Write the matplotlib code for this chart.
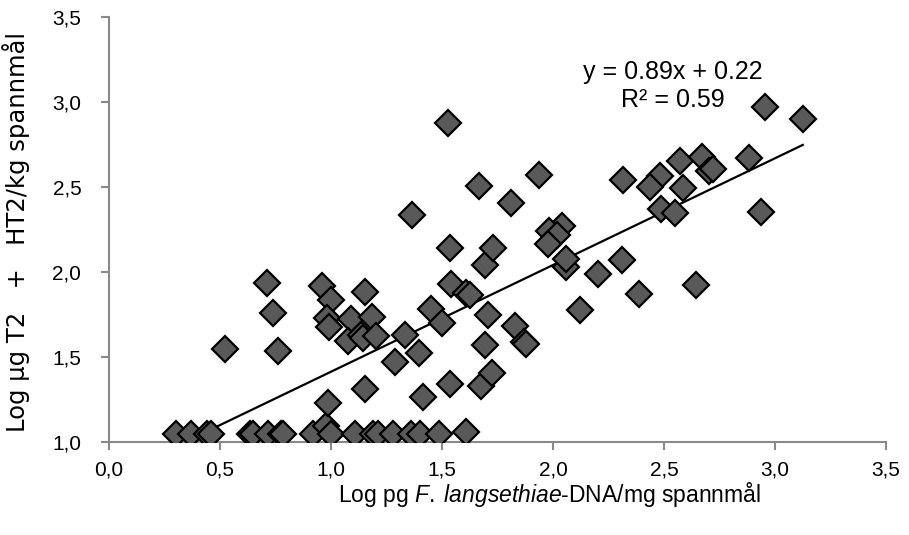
import numpy as np
import matplotlib
matplotlib.use("Agg")
import matplotlib.pyplot as plt

plt.rcParams['mathtext.fontset'] = 'custom'
plt.rcParams['mathtext.rm'] = 'Liberation Sans'
plt.rcParams['mathtext.it'] = 'Liberation Sans:italic'

# Data (log pg DNA/mg, log µg T2+HT2/kg)
x_dna = [0.30, 0.37, 0.44, 0.46, 0.635, 0.65, 0.716, 0.775, 0.785, 0.918, 0.978, 1.00,
         1.106, 1.19, 1.21, 1.28, 1.36, 1.40, 1.488, 1.61,
         0.52, 0.713, 0.739, 0.762, 0.96, 1.001, 1.151, 0.983, 0.99, 1.092, 1.183, 1.076,
         1.136, 1.145, 1.203, 1.29, 1.151, 0.986,
         1.413, 1.395, 1.335, 1.45, 1.498, 1.537, 1.54, 1.608, 1.624, 1.693, 1.709, 1.693,
         1.676, 1.727, 1.828, 1.870, 1.877, 1.536, 1.729, 2.06, 2.058, 2.202, 2.122, 2.312,
         2.388, 2.642,
         1.527, 1.667, 1.81, 1.936, 1.366, 2.042, 1.984, 2.02, 1.977,
         2.957, 3.125, 2.313, 2.484, 2.435, 2.572, 2.673, 2.701, 2.722, 2.586, 2.881,
         2.486, 2.548, 2.939]
y_tox = [1.045, 1.045, 1.045, 1.045, 1.045, 1.045, 1.045, 1.045, 1.045, 1.045, 1.095, 1.045,
         1.045, 1.045, 1.045, 1.045, 1.045, 1.045, 1.045, 1.06,
         1.549, 1.933, 1.761, 1.535, 1.919, 1.835, 1.884, 1.727, 1.675, 1.722, 1.733, 1.596,
         1.629, 1.61, 1.625, 1.472, 1.312, 1.227,
         1.265, 1.525, 1.629, 1.782, 1.702, 1.341, 1.929, 1.878, 1.865, 2.041, 1.745, 1.571,
         1.329, 1.408, 1.682, 1.59, 1.575, 2.143, 2.139, 2.03, 2.075, 1.988, 1.776, 2.073,
         1.869, 1.926,
         2.875, 2.508, 2.408, 2.569, 2.335, 2.272, 2.242, 2.217, 2.164,
         2.969, 2.902, 2.541, 2.563, 2.502, 2.651, 2.678, 2.596, 2.604, 2.492, 2.669,
         2.369, 2.345, 2.353]

x_ticks = [0.0, 0.5, 1.0, 1.5, 2.0, 2.5, 3.0, 3.5]
x_tick_labels = ['0,0', '0,5', '1,0', '1,5', '2,0', '2,5', '3,0', '3,5']
y_ticks = [1.0, 1.5, 2.0, 2.5, 3.0, 3.5]
y_tick_labels = ['1,0', '1,5', '2,0', '2,5', '3,0', '3,5']

equation_text = "y = 0.89x + 0.22\nR² = 0.59"

fig = plt.figure(figsize=(9.09, 5.35), dpi=100)
ax = fig.add_axes([0.12, 0.1738, 0.8547, 0.7942])

xa = np.array(x_dna)
ya = np.array(y_tox)
slope, intercept = np.polyfit(xa, ya, 1)
xl = np.array([xa.min(), xa.max()])
ax.plot(xl, slope * xl + intercept, color='black', lw=1.6, zorder=2)

ax.plot(xa, ya, ls='none', marker='D', ms=13, mfc='#595959', mec='black', mew=1.6, zorder=3)

ax.set_xlim(0, 3.5)
ax.set_ylim(1.0, 3.5)
ax.set_xticks(x_ticks)
ax.set_xticklabels(x_tick_labels, fontsize=15, family='Liberation Sans')
ax.set_yticks(y_ticks)
ax.set_yticklabels(y_tick_labels, fontsize=15, family='Liberation Sans')
ax.tick_params(axis='both', direction='out', length=6, width=1.5, color='#898989')
ax.tick_params(axis='x', pad=7)
ax.tick_params(axis='y', pad=14)

for s in ['top', 'right']:
    ax.spines[s].set_visible(False)
for s in ['left', 'bottom']:
    ax.spines[s].set_color('#898989')
    ax.spines[s].set_linewidth(1.5)

ax.set_xlabel(r"Log pg $\mathit{F.\;langsethiae}$-DNA/mg spannmål", fontsize=16.5,
              family='Liberation Sans')
ax.xaxis.set_label_coords(0.567, -0.09)
ax.set_ylabel("Log µg T2   +   HT2/kg spannmål", fontsize=17.5, family='DejaVu Sans')
ax.yaxis.set_label_coords(-0.102, 0.495)

ax.text(2.54, 3.097, equation_text, ha='center', va='center', fontsize=18,
        family='Liberation Sans', linespacing=1.2)

fig.savefig("out.png", dpi=100)
